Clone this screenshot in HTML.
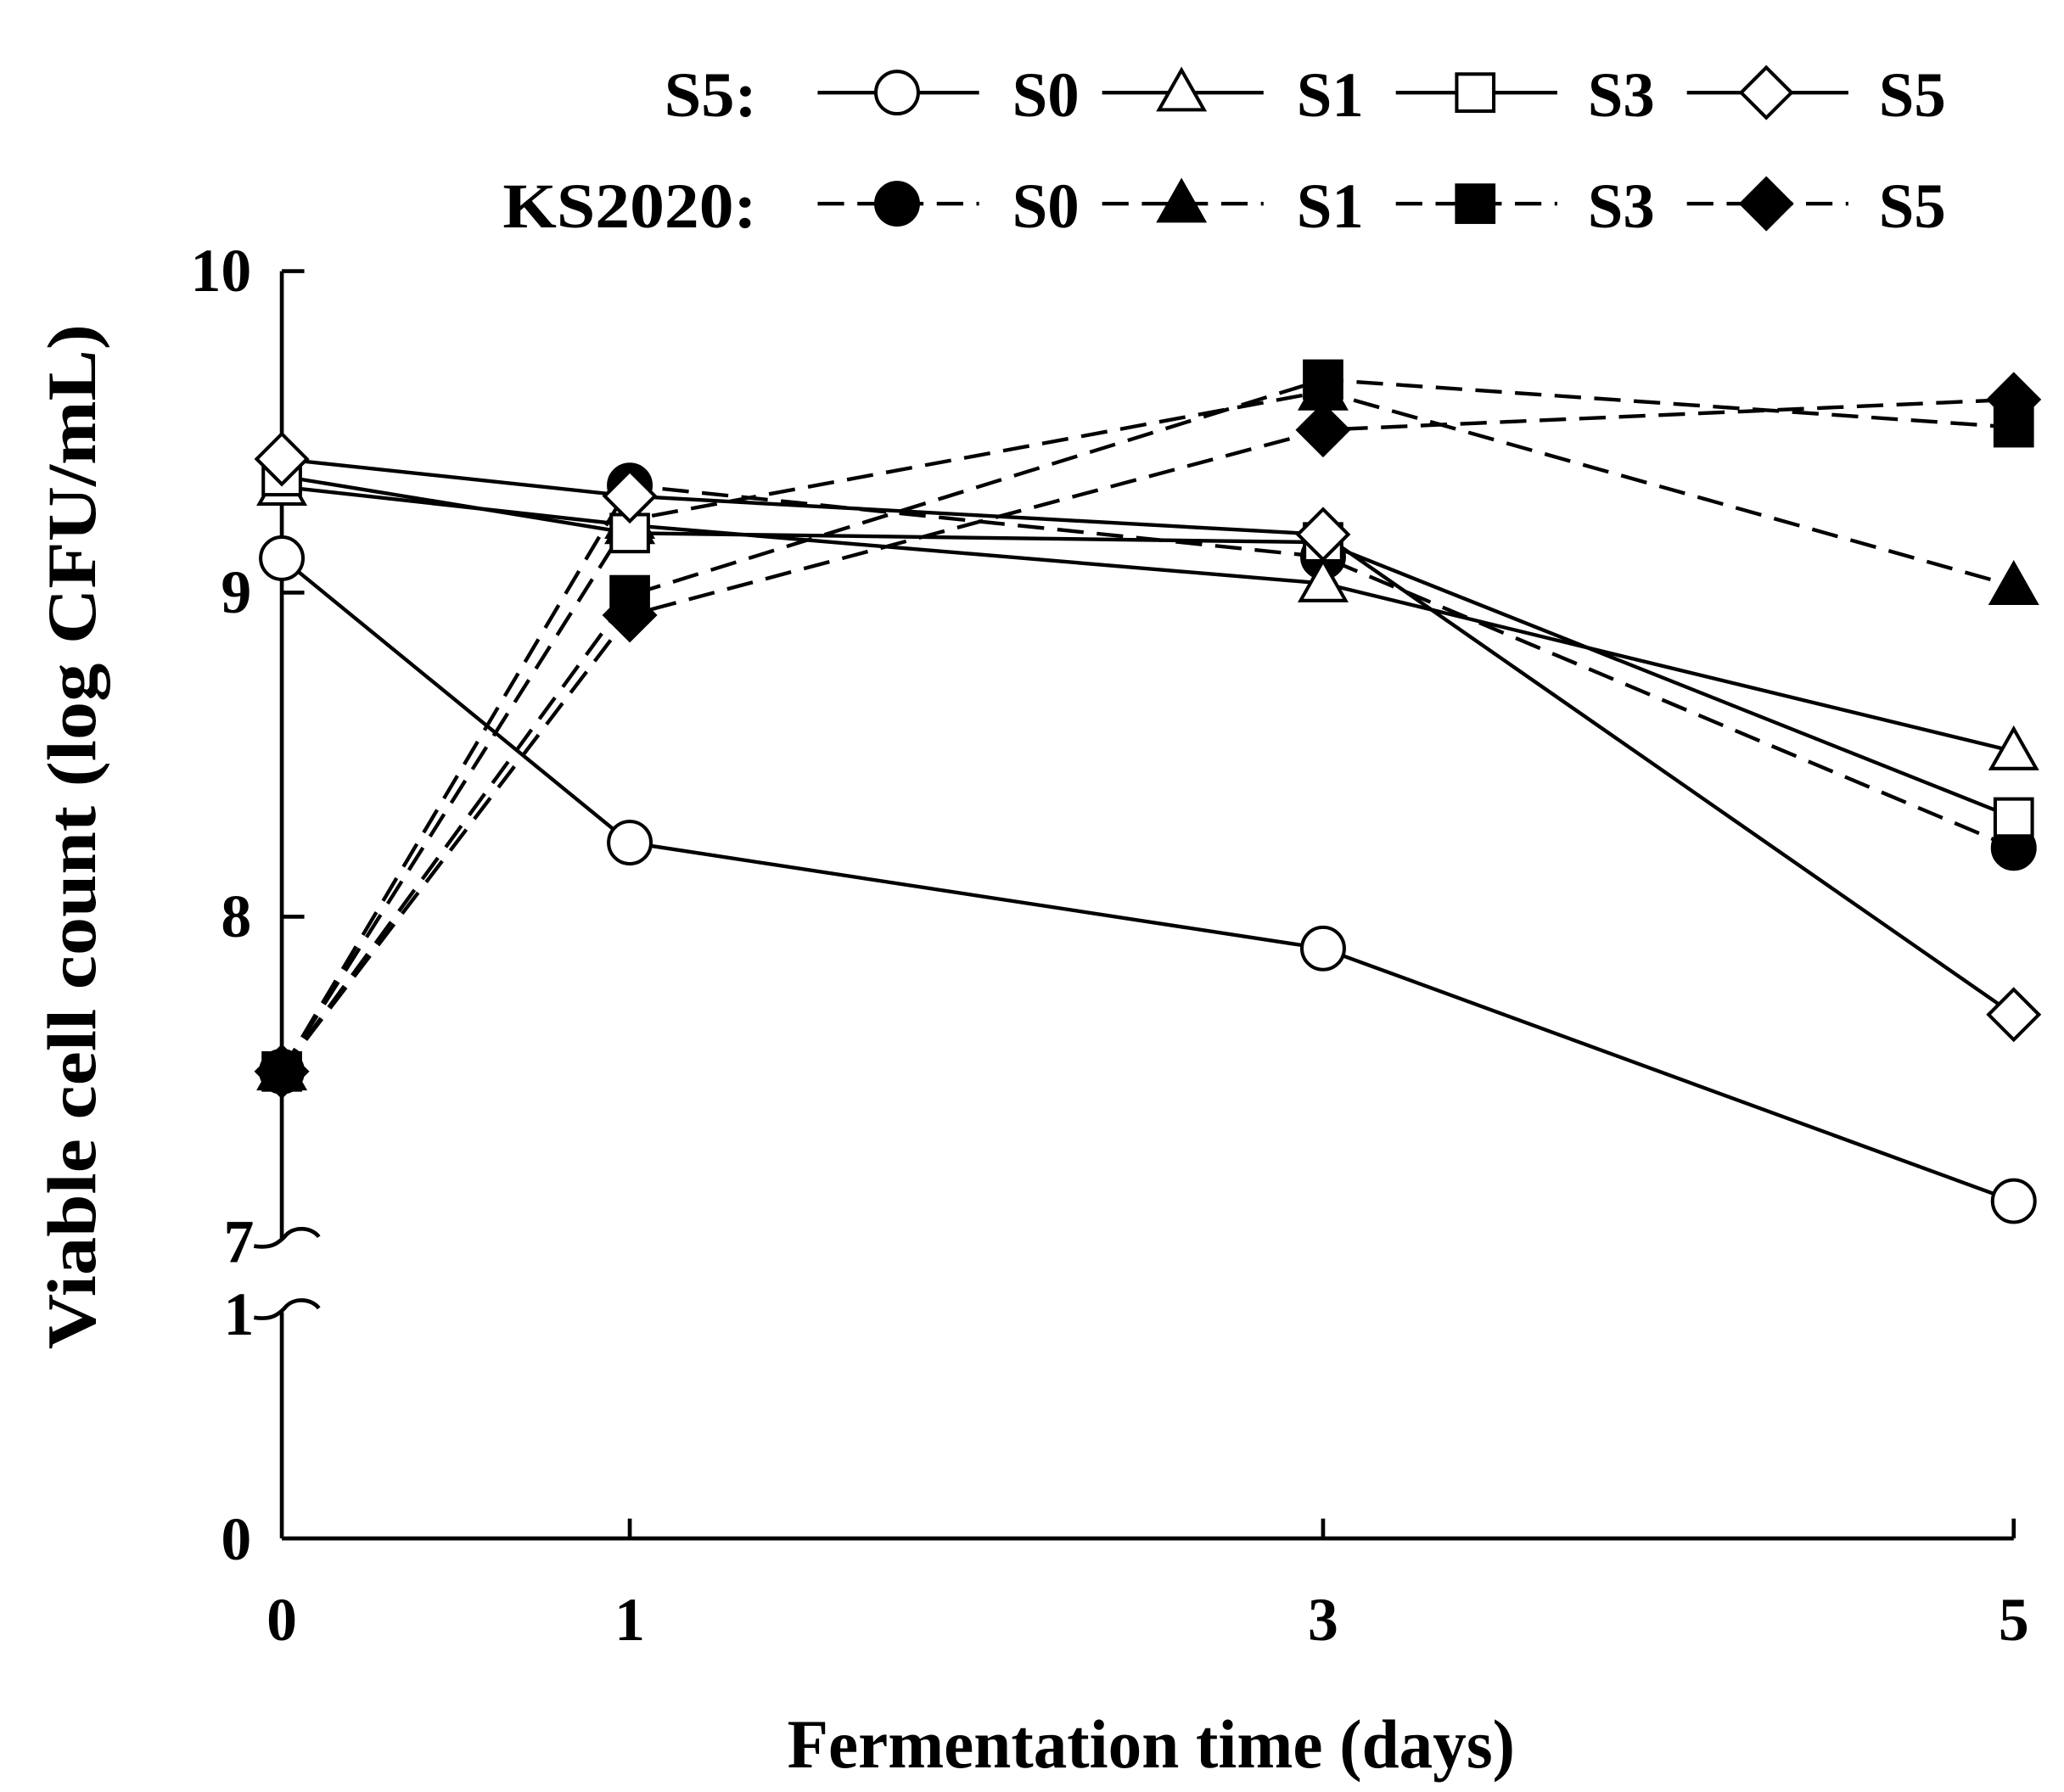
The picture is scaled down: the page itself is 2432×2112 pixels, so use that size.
<!DOCTYPE html>
<html><head><meta charset="utf-8"><style>html,body{margin:0;padding:0;background:#fff}svg{display:block}</style></head><body>
<svg width="2432" height="2112" viewBox="0 0 1560 1354.7" preserveAspectRatio="none" xmlns="http://www.w3.org/2000/svg" font-family="'Liberation Serif',serif" font-weight="bold">
<rect width="1560" height="1355" fill="#fff"/>
<g stroke="#000" stroke-width="3" fill="none">
<line x1="213" y1="205" x2="213" y2="936"/>
<line x1="213" y1="992" x2="213" y2="1163"/>
<line x1="213" y1="1163" x2="1522" y2="1163"/>
<line x1="213" y1="205" x2="230" y2="205"/>
<line x1="213" y1="448" x2="230" y2="448"/>
<line x1="213" y1="693" x2="230" y2="693"/>
<line x1="476" y1="1163" x2="476" y2="1148"/>
<line x1="1000" y1="1163" x2="1000" y2="1148"/>
<line x1="1522" y1="1163" x2="1522" y2="1148"/>
<path d="M192 942 C205 944 210 940 215 935 C222 926 236 928 241 935"/>
<path d="M192 996 C205 998 210 994 215 989 C222 980 236 982 241 989"/>
</g>
<g font-size="46" text-anchor="end">
<text x="190" y="220">10</text><text x="190" y="463">9</text><text x="190" y="708">8</text>
<text x="192" y="954">7</text><text x="192" y="1009">1</text><text x="190" y="1179">0</text>
</g>
<g font-size="46" text-anchor="middle">
<text x="213" y="1240">0</text><text x="476" y="1240">1</text><text x="1000" y="1240">3</text><text x="1522" y="1240">5</text>
</g>
<text x="595" y="1336" font-size="52" textLength="550" lengthAdjust="spacingAndGlyphs">Fermentation time (days)</text>
<text transform="translate(72,1020) rotate(-90)" font-size="52" textLength="775" lengthAdjust="spacingAndGlyphs">Viable cell count (log CFU/mL)</text>
<g stroke="#000" stroke-width="2.8" fill="none">
<polyline points="213,422 476,637 1000,717 1522,908"/>
<polyline points="213,368 476,397 1000,441 1522,568"/>
<polyline points="213,360 476,403 1000,410 1522,618"/>
<polyline points="213,347 476,375 1000,404 1522,767"/>
</g>
<g stroke="#000" stroke-width="2.8" fill="none" stroke-dasharray="20 10">
<polyline points="213,810 476,367 1000,421 1522,641"/>
<polyline points="213,810 476,393 1000,296 1522,443"/>
<polyline points="213,810 476,450 1000,287 1522,323"/>
<polyline points="213,810 476,465 1000,325 1522,302"/>
<line x1="618" y1="154" x2="740" y2="154"/><line x1="833" y1="154" x2="955" y2="154"/>
<line x1="1055" y1="154" x2="1177" y2="154"/><line x1="1275" y1="154" x2="1397" y2="154"/>
</g>
<g stroke="#000" stroke-width="2.8">
<line x1="618" y1="70" x2="740" y2="70"/><line x1="833" y1="70" x2="955" y2="70"/>
<line x1="1055" y1="70" x2="1177" y2="70"/><line x1="1275" y1="70" x2="1397" y2="70"/>
</g>
<defs>
<circle id="c" r="16"/>
<polygon id="t" points="0,-17 17,13 -17,13"/>
<rect id="s" x="-14" y="-14" width="28" height="28"/>
<polygon id="d" points="0,-19 19,0 0,19 -19,0"/>
</defs>
<g fill="#000" stroke="#000" stroke-width="2.6">
<use href="#c" x="213" y="810"/><use href="#t" x="213" y="810"/><use href="#s" x="213" y="810"/><use href="#d" x="213" y="810"/>
<use href="#c" x="476" y="367"/><use href="#c" x="1000" y="421"/><use href="#c" x="1522" y="641"/>
<use href="#t" x="476" y="393"/><use href="#t" x="1000" y="296"/><use href="#t" x="1522" y="443"/>
<use href="#s" x="476" y="450"/><use href="#s" x="1000" y="287"/><use href="#s" x="1522" y="323"/>
<use href="#d" x="476" y="465"/><use href="#d" x="1000" y="325"/><use href="#d" x="1522" y="302"/>
<use href="#c" x="678" y="154"/><use href="#t" x="893" y="154"/><use href="#s" x="1115" y="154"/><use href="#d" x="1335" y="154"/>
</g>
<g fill="#fff" stroke="#000" stroke-width="2.6">
<use href="#c" x="213" y="422"/><use href="#c" x="476" y="637"/><use href="#c" x="1000" y="717"/><use href="#c" x="1522" y="908"/>
<use href="#t" x="213" y="368"/><use href="#t" x="476" y="397"/><use href="#t" x="1000" y="441"/><use href="#t" x="1522" y="568"/>
<use href="#s" x="213" y="360"/><use href="#s" x="476" y="403"/><use href="#s" x="1000" y="410"/><use href="#s" x="1522" y="618"/>
<use href="#d" x="213" y="347"/><use href="#d" x="476" y="375"/><use href="#d" x="1000" y="404"/><use href="#d" x="1522" y="767"/>
<use href="#c" x="678" y="70"/><use href="#t" x="893" y="70"/><use href="#s" x="1115" y="70"/><use href="#d" x="1335" y="70"/>
</g>
<g font-size="48">
<text x="502" y="88" textLength="70" lengthAdjust="spacingAndGlyphs">S5:</text>
<text x="380" y="172" textLength="192" lengthAdjust="spacingAndGlyphs">KS2020:</text>
<text x="765" y="88">S0</text><text x="980" y="88">S1</text><text x="1200" y="88">S3</text><text x="1420" y="88">S5</text>
<text x="765" y="172">S0</text><text x="980" y="172">S1</text><text x="1200" y="172">S3</text><text x="1420" y="172">S5</text>
</g>
</svg>
</body></html>
